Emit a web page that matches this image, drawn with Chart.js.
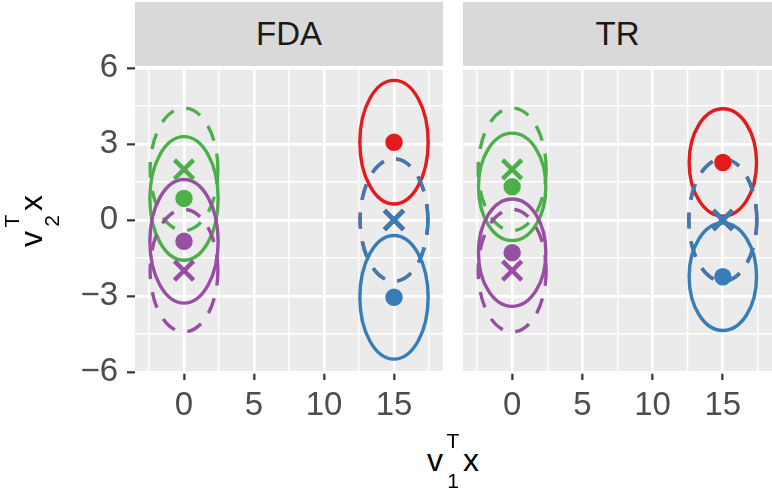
<!DOCTYPE html>
<html>
<head>
<meta charset="utf-8">
<script src="https://cdn.jsdelivr.net/npm/chart.js@4/dist/chart.umd.min.js"></script>
<style>
  html, body { margin: 0; padding: 0; background: #fff; }
  body { width: 772px; height: 493px; position: relative; overflow: hidden; font-family: 'Liberation Sans', Arial, sans-serif; }
  .panel { position: absolute; top: 0; height: 430px; }
  .strip { position: absolute; top: 2px; height: 64px; background: #D9D9D9; color: #1A1A1A;
           font-size: 33px; display: flex; align-items: center; justify-content: center; }
  .ttl { position: absolute; width: 80px; height: 32px; text-align: center; font-size: 32px;
         line-height: 32px; color: #000; white-space: nowrap; }
  .ss { display: inline-block; position: relative; width: 20px; height: 0; }
  .ss span { position: absolute; left: 0; width: 20px; text-align: center; font-size: 21px; line-height: 21px; }
  .ss .sp { top: -41px; }
  .ss .sb { top: -1px; }
  #ylab { left: -9.5px; top: 205px; transform: rotate(-90deg); }
  #xlab { left: 413px; top: 444px; }
</style>
</head>
<body>
<div class="panel" style="left:0;width:453px"><canvas id="fda"></canvas></div>
<div class="panel" style="left:453px;width:319px"><canvas id="tr"></canvas></div>
<div class="strip" style="left:135px;width:308px">FDA</div>
<div class="strip" style="left:463px;width:309px">TR</div>
<div class="ttl" id="ylab">v<span class="ss"><span class="sp">T</span><span class="sb">2</span></span>x</div>
<div class="ttl" id="xlab">v<span class="ss"><span class="sp">T</span><span class="sb">1</span></span>x</div>
<script>
// axes
const xRange = [-3.5, 18.5];
const yRange = [-6, 6];
const xMajor = [0, 5, 10, 15];
const xMinor = [-2.5, 2.5, 7.5, 12.5, 17.5];
const yMajor = [-6, -3, 0, 3, 6];
const yMinor = [-4.5, -1.5, 1.5, 4.5];

// classes (red, blue, green, purple)
const classColors = ['#E41A1C', '#377EB8', '#4DAF4A', '#984EA3'];
const meanX = [15, 15, 0, 0];
const trueMeanY = [0, 0, 2, -2];
const fdaMeanY = [3.07, -3.05, 0.85, -0.84];
const trMeanY = [2.27, -2.24, 1.31, -1.29];

// ellipse half-axes [x, y]
const trueRadius = [2.42, 2.42];
const fdaRadius = [2.44, 2.44];
const trRadius = [2.4, 2.12];

const FONT = "'Liberation Sans', Arial, sans-serif";
const isMajor = (list, v) => list.some(m => Math.abs(m - v) < 1e-9);
const fmt = v => v < 0 ? '\u2212' + Math.abs(v) : String(v);

const panelBg = {
  id: 'panelBg',
  beforeDraw(chart) {
    const a = chart.chartArea, ctx = chart.ctx;
    ctx.save();
    ctx.fillStyle = '#EBEBEB';
    ctx.fillRect(a.left, a.top, a.right - a.left, a.bottom - a.top);
    ctx.restore();
  }
};

const ellipses = {
  id: 'ellipses',
  beforeDatasetsDraw(chart, args, opts) {
    const ctx = chart.ctx, xs = chart.scales.x, ys = chart.scales.y, a = chart.chartArea;
    ctx.save();
    ctx.beginPath();
    ctx.rect(a.left, a.top, a.right - a.left, a.bottom - a.top);
    ctx.clip();
    ctx.lineWidth = 3.4;
    opts.items.forEach(e => {
      const cx = xs.getPixelForValue(e.x), cy = ys.getPixelForValue(e.y);
      const rx = Math.abs(xs.getPixelForValue(e.x + e.rx) - cx);
      const ry = Math.abs(ys.getPixelForValue(e.y + e.ry) - cy);
      ctx.beginPath();
      ctx.ellipse(cx, cy, rx, ry, 0, 0, Math.PI * 2, true);
      ctx.setLineDash(e.dash);
      ctx.strokeStyle = e.color;
      ctx.stroke();
    });
    ctx.restore();
  }
};

function buildEllipses(meanY, radius) {
  const items = [];
  classColors.forEach((c, i) => {
    items.push({ x: meanX[i], y: meanY[i], rx: radius[0], ry: radius[1], color: c, dash: [] });
    items.push({ x: meanX[i], y: trueMeanY[i], rx: trueRadius[0], ry: trueRadius[1], color: c, dash: [16, 13] });
  });
  return items;
}

function buildDatasets(meanY) {
  const ds = [];
  classColors.forEach((c, i) => {
    ds.push({
      data: [{ x: meanX[i], y: trueMeanY[i] }],
      pointStyle: 'crossRot', pointRadius: 13.5, pointBorderWidth: 4.5,
      borderColor: c, backgroundColor: c, order: 8 - i
    });
  });
  classColors.forEach((c, i) => {
    ds.push({
      data: [{ x: meanX[i], y: meanY[i] }],
      pointStyle: 'circle', pointRadius: 8.7, pointBorderWidth: 0,
      borderColor: c, backgroundColor: c, order: 4 - i
    });
  });
  return ds;
}

function axisTicks(major, minor) {
  return major.concat(minor).sort((p, q) => p - q).map(v => ({ value: v }));
}

function makePanel(id, meanY, radius, showY) {
  const gridX = {
    color: '#FFFFFF',
    lineWidth: c => isMajor(xMajor, c.tick.value) ? 2.7 : 1.4,
    tickColor: c => isMajor(xMajor, c.tick.value) ? '#333333' : 'rgba(0,0,0,0)',
    tickWidth: 2.2,
    tickLength: 8
  };
  const gridY = {
    color: '#FFFFFF',
    lineWidth: c => isMajor(yMajor, c.tick.value) ? 2.7 : 1.4,
    tickColor: c => isMajor(yMajor, c.tick.value) ? '#333333' : 'rgba(0,0,0,0)',
    tickWidth: 2.2,
    tickLength: 8,
    drawTicks: showY
  };
  return new Chart(document.getElementById(id), {
    type: 'scatter',
    data: { datasets: buildDatasets(meanY) },
    options: {
      responsive: true,
      maintainAspectRatio: false,
      animation: false,
      layout: { autoPadding: false, padding: { top: 68, right: showY ? 10 : 0, left: 0, bottom: 0 } },
      plugins: {
        legend: { display: false },
        tooltip: { enabled: false },
        ellipses: { items: buildEllipses(meanY, radius) }
      },
      scales: {
        x: {
          type: 'linear', min: xRange[0], max: xRange[1],
          border: { display: false },
          grid: gridX,
          afterBuildTicks: s => { s.ticks = axisTicks(xMajor, xMinor); },
          afterFit: s => { s.height = 58; s.paddingLeft = 0; s.paddingRight = 0; },
          ticks: {
            autoSkip: false, maxRotation: 0, padding: 6, color: '#4D4D4D',
            font: { family: FONT, size: 33 },
            callback: v => isMajor(xMajor, v) ? fmt(v) : ''
          }
        },
        y: {
          type: 'linear', min: yRange[0], max: yRange[1],
          border: { display: false },
          grid: gridY,
          afterBuildTicks: s => { s.ticks = axisTicks(yMajor, yMinor); },
          afterFit: s => { s.width = showY ? 135 : 10; s.paddingTop = 0; s.paddingBottom = 0; },
          ticks: {
            display: showY, autoSkip: false, padding: 9, color: '#4D4D4D',
            font: { family: FONT, size: 33 },
            callback: v => isMajor(yMajor, v) ? fmt(v) : ''
          }
        }
      }
    },
    plugins: [panelBg, ellipses]
  });
}

makePanel('fda', fdaMeanY, fdaRadius, true);
makePanel('tr', trMeanY, trRadius, false);
</script>
</body>
</html>
